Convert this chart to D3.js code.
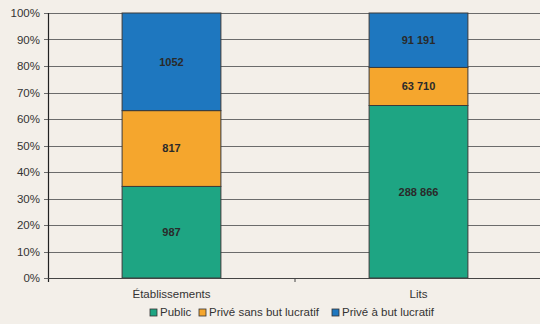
<!DOCTYPE html>
<html>
<head>
<meta charset="utf-8">
<script src="https://cdn.jsdelivr.net/npm/d3@7"></script>
<style>
body { margin: 0; background: #f3efe9; }
text { font-family: "Liberation Sans", Arial, sans-serif; }
</style>
</head>
<body>
<div id="chart"></div>
<script>
var categories = ["Établissements", "Lits"];
var seriesNames = ["Public", "Privé sans but lucratif", "Privé à but lucratif"];
var publicVals = [987, 288866];
var priveNonLucratif = [817, 63710];
var priveLucratif = [1052, 91191];
var yTicks = [0, 0.1, 0.2, 0.3, 0.4, 0.5, 0.6, 0.7, 0.8, 0.9, 1];
var colors = ["#1ea583", "#f5a62d", "#1e77bf"];

var W = 540, H = 324;
var m = {t: 13, r: -2, b: 46, l: 48};
var w = W - m.l - m.r, h = H - m.t - m.b;

var svg = d3.select("#chart").append("svg")
    .attr("width", W).attr("height", H);
svg.append("rect").attr("width", W).attr("height", H).attr("fill", "#f3efe9");
var g = svg.append("g").attr("transform", "translate(" + m.l + "," + m.t + ")");

var seriesVals = [publicVals, priveNonLucratif, priveLucratif];
var rows = categories.map(function(c, i){
    var r = {cat: c};
    seriesNames.forEach(function(s, j){ r[s] = seriesVals[j][i]; });
    return r;
});
var stack = d3.stack().keys(seriesNames).offset(d3.stackOffsetExpand);
var layers = stack(rows);

var x = d3.scaleBand().domain(categories).range([0, w]).paddingInner(0).paddingOuter(0);
var y = d3.scaleLinear().domain([0, 1]).range([h, 0]);
// french style: group thousands with a space only from 10 000 up
var fmt = function(v){ return v < 10000 ? String(v) : d3.format(",")(v).replace(/,/g, " "); };

// gridlines
g.selectAll(".grid").data(yTicks).enter().append("line")
    .attr("x1", -4).attr("x2", w)
    .attr("y1", function(d){ return Math.round(y(d)) + 0.5; })
    .attr("y2", function(d){ return Math.round(y(d)) + 0.5; })
    .attr("stroke", "#6b6b6b").attr("stroke-width", 1);

g.selectAll(".ylab").data(yTicks).enter().append("text")
    .attr("x", -8).attr("y", function(d){ return y(d); })
    .attr("dy", "0.35em").attr("text-anchor", "end")
    .style("font-size", "11.5px").attr("fill", "#333")
    .text(function(d){ return Math.round(d * 100) + "%"; });

var bw = x.bandwidth() * 0.4;
layers.forEach(function(layer, j){
    var lg = g.append("g");
    lg.selectAll("rect").data(layer).enter().append("rect")
        .attr("x", function(d){ return x(d.data.cat) + (x.bandwidth() - bw) / 2; })
        .attr("y", function(d){ return y(d[1]); })
        .attr("width", bw)
        .attr("height", function(d){ return y(d[0]) - y(d[1]); })
        .attr("fill", colors[j]).attr("stroke", "#3a3a3a").attr("stroke-width", 1);
    lg.selectAll("text").data(layer).enter().append("text")
        .attr("x", function(d){ return x(d.data.cat) + x.bandwidth() / 2; })
        .attr("y", function(d){ return (y(d[0]) + y(d[1])) / 2; })
        .attr("dy", "0.35em").attr("text-anchor", "middle")
        .style("font-size", "11px").style("font-weight", "bold").attr("fill", "#2a2a2a")
        .text(function(d){ return fmt(d.data[seriesNames[j]]); });
});

// axes lines
g.append("line").attr("x1", 0.5).attr("x2", 0.5).attr("y1", 0).attr("y2", h + 4)
    .attr("stroke", "#222").attr("stroke-width", 1.2);
g.append("line").attr("x1", 0).attr("x2", w).attr("y1", h + 0.5).attr("y2", h + 0.5)
    .attr("stroke", "#444");
g.append("line").attr("x1", w / 2).attr("x2", w / 2).attr("y1", h).attr("y2", h + 4)
    .attr("stroke", "#444");

g.selectAll(".xlab").data(categories).enter().append("text")
    .attr("x", function(d){ return x(d) + x.bandwidth() / 2; })
    .attr("y", h + 20)
    .attr("text-anchor", "middle").style("font-size", "11.5px").attr("fill", "#333")
    .text(function(d){ return d; });

// legend
var legX = [150, 199, 332];
var leg = svg.append("g").attr("transform", "translate(0,316)");
seriesNames.forEach(function(s, j){
    leg.append("rect").attr("x", legX[j]).attr("y", -7).attr("width", 7).attr("height", 7)
        .attr("fill", colors[j]).attr("stroke", "#333").attr("stroke-width", 0.8);
    leg.append("text").attr("x", legX[j] + 10).attr("y", 0)
        .style("font-size", "11.5px").attr("fill", "#333").text(s);
});
</script>
</body>
</html>
